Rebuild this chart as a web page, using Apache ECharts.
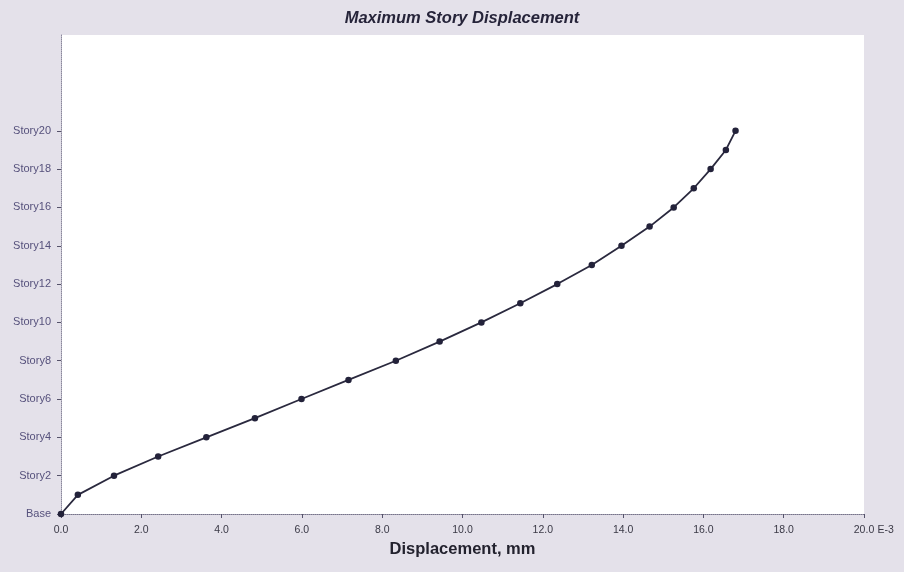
<!DOCTYPE html>
<html>
<head>
<meta charset="utf-8">
<script src="https://cdn.jsdelivr.net/npm/echarts@6/dist/echarts.min.js"></script>
<style>
html,body{margin:0;padding:0;background:#e4e1ea;}
#chart{width:904px;height:572px;}
</style>
</head>
<body>
<div id="chart"></div>
<script>
// Data (displacement in mm x 1E-3)
const stories = [0,1,2,3,4,5,6,7,8,9,10,11,12,13,14,15,16,17,18,19,20];
const displacement = [0,0.42,1.32,2.42,3.62,4.83,5.99,7.16,8.34,9.43,10.47,11.44,12.36,13.22,13.96,14.66,15.26,15.76,16.18,16.56,16.8];
const yTickValues = [0,2,4,6,8,10,12,14,16,18,20];
const yTickLabels = ['Base','Story2','Story4','Story6','Story8','Story10','Story12','Story14','Story16','Story18','Story20'];
const xTickValues = [0,2,4,6,8,10,12,14,16,18,20];
const xTickLabels = ['0.0','2.0','4.0','6.0','8.0','10.0','12.0','14.0','16.0','18.0','20.0'];
const xUnitSuffix = 'E-3';
const titleText = 'Maximum Story Displacement';
const xAxisName = 'Displacement, mm';

const chart = echarts.init(document.getElementById('chart'));
const points = displacement.map((d,i)=>[d, stories[i]]);
chart.setOption({
  backgroundColor: '#e4e1ea',
  animation: false,
  title: {
    text: titleText, left: 457, top: 5, textAlign: 'center',
    textStyle: {fontFamily: 'Liberation Sans, Arial', fontSize: 16.5, fontWeight: 'bold', fontStyle: 'italic', color: '#26243a'}
  },
  grid: {left: 61, right: 40, top: 35, bottom: 58, show: true, backgroundColor: '#ffffff', borderWidth: 0},
  xAxis: {
    type: 'value', min: 0, max: 20, interval: 2,
    name: xAxisName, nameLocation: 'middle', nameGap: 22,
    nameTextStyle: {fontFamily: 'Liberation Sans, Arial', fontSize: 16.5, fontWeight: 'bold', color: '#23222e'},
    axisLine: {show: true, onZero: false, lineStyle: {color: '#77748a', width: 1, type: 'dotted'}},
    axisTick: {show: true, length: 4, lineStyle: {color: '#55526a'}},
    splitLine: {show: false},
    axisLabel: {
      margin: 11, fontFamily: 'Liberation Sans, Arial', fontSize: 10.5, color: '#3a3946',
      formatter: function(v){
        const i = xTickValues.indexOf(v);
        if (i < 0) return '';
        if (i === xTickValues.length - 1) return '{s|}{v|' + xTickLabels[i] + '}{u| ' + xUnitSuffix + '}';
        return xTickLabels[i];
      },
      rich: {
        s: {width: 20},
        v: {fontFamily: 'Liberation Sans, Arial', fontSize: 10.5, color: '#3a3946'},
        u: {fontFamily: 'Liberation Sans, Arial', fontSize: 10.5, color: '#3a3946', width: 20}
      }
    }
  },
  yAxis: {
    type: 'value', min: 0, max: 25,
    axisLine: {show: true, onZero: false, lineStyle: {color: '#8a879c', width: 1, type: 'dotted'}},
    axisTick: {show: true, length: 4, customValues: yTickValues, lineStyle: {color: '#55526a'}},
    splitLine: {show: false},
    axisLabel: {
      customValues: yTickValues, margin: 10,
      fontFamily: 'Liberation Sans, Arial', fontSize: 11, color: '#56517c',
      formatter: function(v){
        const i = yTickValues.indexOf(v);
        return i < 0 ? '' : yTickLabels[i];
      }
    }
  },
  series: [{
    type: 'line', data: points, smooth: false,
    symbol: 'circle', symbolSize: 6.5,
    lineStyle: {color: '#2a293e', width: 1.8},
    itemStyle: {color: '#23223a'}
  }]
});
</script>
</body>
</html>
